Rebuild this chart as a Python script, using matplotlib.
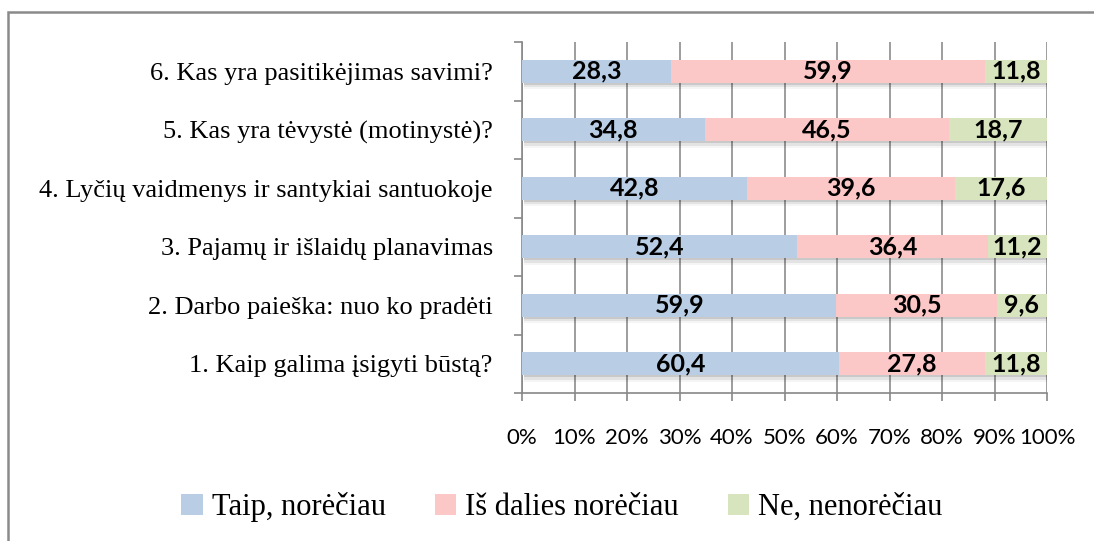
import numpy as np
import matplotlib.pyplot as plt
from matplotlib.patches import Rectangle

questions = ['1. Kaip galima įsigyti būstą?',
             '2. Darbo paieška: nuo ko pradėti',
             '3. Pajamų ir išlaidų planavimas',
             '4. Lyčių vaidmenys ir santykiai santuokoje',
             '5. Kas yra tėvystė (motinystė)?',
             '6. Kas yra pasitikėjimas savimi?']
taip = [60.4, 59.9, 52.4, 42.8, 34.8, 28.3]
dalies = [27.8, 30.5, 36.4, 39.6, 46.5, 59.9]
ne = [11.8, 9.6, 11.2, 17.6, 18.7, 11.8]
series_names = ['Taip, norėčiau', 'Iš dalies norėčiau', 'Ne, nenorėčiau']
colors = ['#B9CDE5', '#FCC8C7', '#D7E4BD']

fig = plt.figure(figsize=(10.94, 5.41), dpi=100)
ax = fig.add_axes([522 / 1094, 1 - 393 / 541, 525 / 1094, 351 / 541])

y = np.arange(len(questions))
h = 0.4
totals = np.array(taip) + np.array(dalies) + np.array(ne)

# soft shadow under each bar
for k, a in enumerate([0.11, 0.07, 0.04]):
    ax.barh(y - 0.035 * (k + 1), totals, height=h, left=0.4, color='black',
            alpha=a, zorder=2, linewidth=0)

left = np.zeros(len(questions))
for vals, name, c in zip([taip, dalies, ne], series_names, colors):
    bars = ax.barh(y, vals, height=h, left=left, color=c, label=name, zorder=3)
    ax.bar_label(bars, labels=[f'{v:.1f}'.replace('.', ',') for v in vals],
                 label_type='center', fontsize=18, fontweight='bold',
                 family='Lato', color='black', zorder=4)
    left += np.array(vals)

ax.set_xlim(0, 100)
ax.set_ylim(-0.5, len(questions) - 0.5)
ax.set_xticks(np.arange(0, 101, 10))
ax.set_xticklabels([f'{v}%' for v in range(0, 101, 10)], family='Lato', fontsize=16)
ax.set_yticks(y)
ax.set_yticklabels(questions, family='Liberation Serif', fontsize=19)
ax.set_yticks(np.arange(-0.5, len(questions), 1), minor=True)
ax.tick_params(axis='y', which='major', length=0, pad=21)
ax.tick_params(axis='y', which='minor', length=6, color='#888888', width=1.2)
ax.tick_params(axis='x', length=6, color='#888888', width=1.2, pad=19)
ax.grid(axis='x', color='#8c8c8c', linewidth=1.2, zorder=1)
ax.set_axisbelow(True)
for s in ['top', 'right']:
    ax.spines[s].set_visible(False)
for s in ['left', 'bottom']:
    ax.spines[s].set_color('#888888')
    ax.spines[s].set_linewidth(1.2)

fig.legend(loc='center', bbox_to_anchor=(562 / 1094, 1 - 507 / 541), ncol=3,
           frameon=False, prop={'family': 'Liberation Serif', 'size': 22},
           handlelength=0.7, handleheight=0.7, handletextpad=0.3, columnspacing=1.6)

fig.patches.append(Rectangle((8 / 1094, -0.1), 1.2, 1 - 12 / 541 + 0.1,
                             transform=fig.transFigure, fill=False,
                             edgecolor='#8a8a8a', linewidth=1.8))

fig.savefig('out.png', dpi=100)
